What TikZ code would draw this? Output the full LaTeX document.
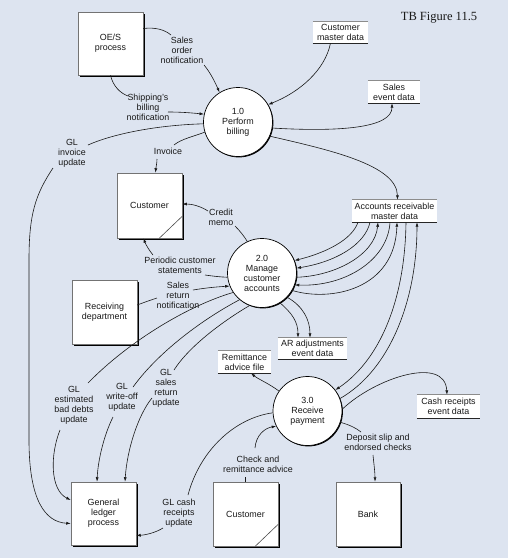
\documentclass[tikz,border=0pt]{standalone}
\usepackage{fontspec}
\setmainfont{Liberation Sans}
\newfontfamily\tbfont{Liberation Serif}
\usetikzlibrary{arrows.meta,shadows,calc}
\definecolor{bgc}{RGB}{221,228,240}
\definecolor{ink}{RGB}{25,25,25}
\begin{document}
\begin{tikzpicture}[x=1pt,y=-1pt,
  every node/.style={font=\fontsize{8.9}{10}\selectfont, text=ink, inner sep=0pt},
  entity/.style={draw=black!55, line width=0.5pt, fill=white, minimum width=65pt, minimum height=63pt, align=center,
     drop shadow={shadow xshift=1.6pt, shadow yshift=-1.6pt, fill=black, opacity=1}},
  proc/.style={circle, draw=black, line width=0.7pt, fill=white, minimum size=69pt, align=center,
     drop shadow={shadow xshift=0.9pt, shadow yshift=-0.9pt, fill=black, opacity=1}},
  store/.style={fill=white, align=center},
  lbl/.style={align=center},
  flow/.style={draw=ink, line width=0.6pt},
  arr/.style={flow, -{Latex[length=4.5pt,width=3pt]}},
]
\useasboundingbox[fill=bgc] (0,0) rectangle (508,558);

\node[font=\tbfont\fontsize{12.5}{14}\selectfont] (title) at (439,18) {TB Figure 11.5};

% entities
\node[entity] (oes) at (110.5,43.5) {OE/S\\process};
\node[entity, minimum height=65pt] (cust1) at (149.5,205.5) {Customer};
\node[entity, minimum height=64pt] (recv) at (104.5,312) {Receiving\\department};
\node[entity] (gl) at (103.5,513.5) {General\\ledger\\process};
\node[entity, minimum height=64pt] (cust2) at (245.5,514) {Customer};
\node[entity, minimum width=64pt, minimum height=64pt] (bank) at (368,514) {Bank};
\draw[black!70, line width=0.6pt] ([xshift=-23pt]cust1.south east) -- ([yshift=22pt]cust1.south east);
\draw[black!70, line width=0.6pt] ([xshift=-23pt]cust2.south east) -- ([yshift=22pt]cust2.south east);

% processes
\node[proc] (c1) at (238,122) {1.0\\Perform\\billing};
\node[proc] (c2) at (262,273) {2.0\\Manage\\customer\\accounts};
\node[proc] (c3) at (307.5,411) {3.0\\Receive\\payment};

% data stores
\node[store, minimum width=55pt, minimum height=21pt] (cmd) at (340.5,32.5) {Customer\\master data};
\node[store, minimum width=52pt, minimum height=22pt] (sed) at (394,92) {Sales\\event data};
\node[store, minimum width=85pt, minimum height=22pt] (armd) at (394.5,211) {Accounts receivable\\master data};
\node[store, minimum width=69pt, minimum height=21pt] (aradj) at (312.5,348.5) {AR adjustments\\event data};
\node[store, minimum width=53pt, minimum height=22pt] (rem) at (244.5,362) {Remittance\\advice file};
\node[store, minimum width=63pt, minimum height=23pt] (cre) at (448.5,406.5) {Cash receipts\\event data};
\foreach \n in {cmd,sed,armd,aradj,rem,cre}{
  \draw[black!45, line width=1.3pt] (\n.north west) -- (\n.north east);
  \draw[black!85, line width=0.8pt] (\n.south west) -- (\n.south east);
}

% labels
\node[lbl] (lso) at (182,50) {Sales\\order\\notification};
\node[lbl] (lsb) at (148,107) {Shipping’s\\billing\\notification};
\node[lbl] (lgi) at (72,153) {GL\\invoice\\update};
\node[lbl] (linv) at (168,151) {Invoice};
\node[lbl] (lcm) at (221,217) {Credit\\memo};
\node[lbl] (lpcs) at (180,265) {Periodic customer\\statements};
\node[lbl] (lsrn) at (178,295) {Sales\\return\\notification};
\node[lbl] (lgbd) at (74,405) {GL\\estimated\\bad debts\\update};
\node[lbl] (lgwo) at (122,397) {GL\\write-off\\update};
\node[lbl] (lgsr) at (166,388) {GL\\sales\\return\\update};
\node[lbl] (lgcr) at (179,513) {GL cash\\receipts\\update};
\node[lbl] (lcra) at (258,464) {Check and\\remittance advice};
\node[lbl] (ldep) at (378,442) {Deposit slip and\\endorsed checks};

% flows around 1.0
\draw[flow] ([yshift=15pt]oes.east) .. controls (156,27) and (165,30) .. ([shift={(-11,-15)}]lso.center);
\draw[arr] ([shift={(22,15)}]lso.center) .. controls (210,72) and (215,82) .. (c1.122);
\draw[flow] (oes.south) .. controls (113,86) and (120,93) .. ([shift={(-20,-11)}]lsb.center);
\draw[arr] ([shift={(20,5)}]lsb.center) .. controls (182,112) and (193,113) .. (c1.167);
\draw[flow] (c1.183) .. controls (160,125) and (115,133) .. ([shift={(16,-8)}]lgi.center);
\draw[arr] ([shift={(-19,15)}]lgi.center) .. controls (35,195) and (29,215) .. (29,260) -- (29,440)
   .. controls (29,500) and (45,522) .. ([yshift=-10pt]gl.west);
\draw[flow] (c1.197) .. controls (195,136) and (181,139) .. ([shift={(6,-6)}]linv.center);
\draw[arr] ([shift={(-11,8)}]linv.center) .. controls (157,163) and (156,167) .. ([xshift=6pt]cust1.north);
\draw[arr] ([xshift=-10pt]cmd.south) .. controls (325,70) and (300,92) .. (c1.30);
\draw[arr] (c1.350) .. controls (340,132) and (392,128) .. ([xshift=-2pt]sed.south);
\draw[arr] (c1.336) .. controls (330,150) and (397,165) .. ([xshift=3pt]armd.north);

% flows around 2.0
\draw[flow] (c2.115) .. controls (244,236) and (240,231) .. ([shift={(14,9)}]lcm.center);
\draw[arr] ([shift={(-13,-6)}]lcm.center) .. controls (200,206) and (192,204) .. ([yshift=1.5pt]cust1.east);
\draw[flow] (c2.187) .. controls (220,277) and (212,276) .. ([shift={(25,10)}]lpcs.center);
\draw[arr] ([shift={(-27,-10)}]lpcs.center) .. controls (149,250) and (146,245) .. ([xshift=-6pt]cust1.south);
\draw[flow] ([yshift=7pt]recv.east) .. controls (145,302) and (151,300) .. ([shift={(-21,3)}]lsrn.center);
\draw[arr] ([shift={(15,-5)}]lsrn.center) .. controls (205,288) and (215,287) .. (c2.202);

\draw[flow] (c2.214) .. controls (190,305) and (130,340) .. ([shift={(14,-22)}]lgbd.center);
\draw[flow] (c2.230) .. controls (205,318) and (160,350) .. ([shift={(11,-10)}]lgwo.center);
\draw[flow] (c2.249) .. controls (225,320) and (190,345) .. ([shift={(8,-18)}]lgsr.center);
\draw[arr] ([shift={(-14,25)}]lgbd.center) .. controls (50,455) and (50,490) .. ([yshift=13.5pt]gl.west);
\draw[arr] ([shift={(-9,20)}]lgwo.center) .. controls (104,435) and (98,460) .. ([xshift=-6.5pt]gl.north);
\draw[arr] ([shift={(-14,10)}]lgsr.center) .. controls (138,415) and (127,450) .. ([xshift=21.5pt]gl.north);

\draw[arr] ([xshift=-36.5pt]armd.south) .. controls (352,240) and (325,253) .. (c2.21);
\draw[arr] ([xshift=-24.5pt]armd.south) .. controls (365,245) and (335,262) .. (c2.8);
\draw[arr] (c2.353) .. controls (335,276) and (375,255) .. ([xshift=-16.5pt]armd.south);
\draw[arr] ([xshift=-4.5pt]armd.south) .. controls (388,260) and (345,287) .. (c2.340);
\draw[arr] (c2.330) .. controls (330,302) and (395,290) .. ([xshift=2.5pt]armd.south);
\draw[arr] ([xshift=11.5pt]armd.south) .. controls (405,300) and (380,360) .. (c3.37);
\draw[arr] (c3.21) .. controls (390,370) and (417,300) .. ([xshift=22.5pt]armd.south);

\draw[arr] (c2.301) .. controls (292,313) and (298,322) .. ([xshift=-14.5pt]aradj.north);
\draw[arr] (c2.316) .. controls (303,306) and (310,320) .. ([xshift=-2.5pt]aradj.north);

% flows around 3.0
\draw[arr] (c3.145) .. controls (268,383) and (258,379) .. ([xshift=6.5pt]rem.south);
\draw[arr] (c3.3) .. controls (375,378) and (445,355) .. ([xshift=-1.5pt]cre.north);
\draw[flow] (c3.183) .. controls (235,418) and (200,450) .. ([shift={(9,-18)}]lgcr.center);
\draw[arr] ([shift={(-16,15)}]lgcr.center) .. controls (155,533) and (145,535) .. ([yshift=-22pt]gl.east);
\draw[flow] (cust2.north) -- ([shift={(-12.5,13)}]lcra.center);
\draw[arr] ([shift={(-3,-16)}]lcra.center) .. controls (256,435) and (265,428) .. (c3.206);
\draw[flow] (c3.341) .. controls (350,425) and (356,428) .. ([shift={(-17,-10)}]ldep.center);
\draw[arr] ([shift={(-5,13)}]ldep.center) .. controls (374,465) and (375,472) .. ([xshift=7pt]bank.north);
\end{tikzpicture}
\end{document}
